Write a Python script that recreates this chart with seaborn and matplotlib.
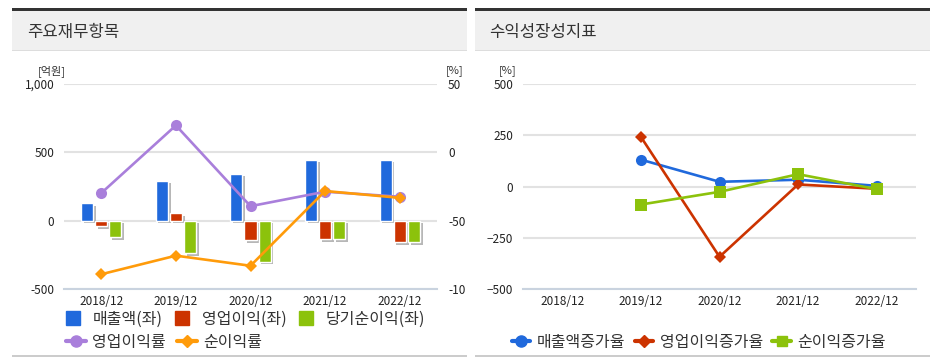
import numpy as np
import pandas as pd
import matplotlib.pyplot as plt
import matplotlib.patheffects as pe
from matplotlib.lines import Line2D
from matplotlib.patches import Rectangle
from matplotlib.transforms import Bbox, TransformedBbox
import seaborn as sns

# data
years = ["2018/12", "2019/12", "2020/12", "2021/12", "2022/12"]
sales = [126, 293, 345, 446, 446]           # 매출액 (억원)
op_profit = [-42, 54, -145, -133, -158]     # 영업이익 (억원)
net_profit = [-121, -236, -300, -133, -158] # 당기순이익 (억원)
op_margin = [-29.8, 19.7, -39.4, -28.8, -32.5]   # 영업이익률 (%)
net_margin = [-89.2, -75.6, -83.0, -28.3, -33.3] # 순이익률 (%)

sales_growth = [np.nan, 131, 23, 33, 3]     # 매출액증가율
op_growth = [np.nan, 242, -343, 10, -11]    # 영업이익증가율
net_growth = [np.nan, -88, -26, 60, -13]    # 순이익증가율

bar_items = ["매출액(좌)", "영업이익(좌)", "당기순이익(좌)"]
bar_colors = ["#2069dc", "#cc3300", "#8cc20c"]
c_purple, c_orange = "#a97fdb", "#ff9b0a"
g_colors = ["#2069dc", "#cc3300", "#8cc20c"]

sns.set_style("white")
plt.rcParams['font.family'] = ['Noto Sans CJK KR', 'DejaVu Sans']

W, H = 935, 363
fig = plt.figure(figsize=(W / 100, H / 100), dpi=100)

# background canvas in pixel coordinates
bg = fig.add_axes([0, 0, 1, 1])
bg.set_xlim(0, W)
bg.set_ylim(H, 0)
bg.axis('off')
for x0, x1 in [(12, 467), (475, 930)]:
    bg.add_patch(Rectangle((x0, 10), x1 - x0, 40, color="#f0f0f0", lw=0))
    bg.add_patch(Rectangle((x0, 8), x1 - x0, 2.5, color="#333333", lw=0))
    bg.add_patch(Rectangle((x0, 50), x1 - x0, 1, color="#dddddd", lw=0))
    bg.add_patch(Rectangle((x0, 355), x1 - x0, 2, color="#cccccc", lw=0))
bg.text(27, 32, "주요재무항목", fontsize=12, color="#333333", va="center")
bg.text(489, 32, "수익성장성지표", fontsize=12, color="#333333", va="center")
bg.text(52, 71, "[억원]", fontsize=8, color="#333333", ha="center", va="center")
bg.text(455, 71, "[%]", fontsize=8, color="#333333", ha="center", va="center")
bg.text(508, 71, "[%]", fontsize=8, color="#333333", ha="center", va="center")


def px_axes(x0, y0, x1, y1):
    return fig.add_axes([x0 / W, 1 - y1 / H, (x1 - x0) / W, (y1 - y0) / H])


def style_axis(ax):
    ax.set_xlim(-0.5, 4.5)
    ax.set_axisbelow(True)
    ax.yaxis.grid(True, color="#e2e2e2", lw=1.5)
    for s in ["top", "left", "right"]:
        ax.spines[s].set_visible(False)
    ax.spines["bottom"].set_color("#c9d3df")
    ax.spines["bottom"].set_linewidth(1.5)
    ax.set_xticks(range(5), years)
    ax.set_xticks(np.arange(-0.5, 5, 1), minor=True)
    ax.tick_params(axis="x", which="major", length=0, pad=4, labelsize=8.5, labelcolor="#222222")
    ax.tick_params(axis="x", which="minor", length=5, width=1.2, color="#c9d3df")
    ax.tick_params(axis="y", length=0, labelsize=8.5, labelcolor="#222222")
    ax.set_xlabel("")
    ax.set_ylabel("")


# ---- left: 주요재무항목 ----
ax1 = px_axes(64, 84, 437, 289)
bars = pd.DataFrame({
    "year": years * 3,
    "item": [bar_items[0]] * 5 + [bar_items[1]] * 5 + [bar_items[2]] * 5,
    "value": sales + op_profit + net_profit,
})
sns.barplot(data=bars, x="year", y="value", hue="item", palette=bar_colors,
            width=0.57, gap=0.15, saturation=1, legend=False, ax=ax1)
for p in ax1.patches:
    p.set_path_effects([pe.SimplePatchShadow(offset=(2, -2), shadow_rgbFace="#888888", alpha=0.6),
                        pe.Normal()])
style_axis(ax1)
ax1.set_ylim(-500, 1000)
ax1.set_yticks([-500, 0, 500, 1000], ["-500", "0", "500", "1,000"])
ax1.tick_params(axis="y", pad=7)

ax2 = ax1.twinx()
sns.lineplot(x=range(5), y=op_margin, color=c_purple, lw=1.9, marker="o",
             markersize=8, markeredgewidth=0, ax=ax2)
sns.lineplot(x=range(5), y=net_margin, color=c_orange, lw=1.9, marker="D",
             markersize=6.5, markeredgewidth=0, ax=ax2)
ax2.set_ylim(-100, 50)
ax2.set_yticks([-100, -50, 0, 50], ["-100", "-50", "0", "50"])
for s in ["top", "left", "right", "bottom"]:
    ax2.spines[s].set_visible(False)
ax2.tick_params(axis="y", length=0, pad=8, labelsize=8.5, labelcolor="#222222")
ax2.set_ylabel("")
ax2.set_xlim(-0.5, 4.5)
# the right-hand labels are cut off at the panel edge, as in the source
panel_clip = TransformedBbox(Bbox([[0, 0], [466, H]]), bg.transData)
for lbl in ax2.get_yticklabels():
    lbl.set_clip_box(panel_clip)
    lbl.set_clip_on(True)

# ---- right: 수익성장성지표 ----
ax3 = px_axes(523, 84, 916, 289)
sns.lineplot(x=range(5), y=sales_growth, color=g_colors[0], lw=1.9, marker="o",
             markersize=8, markeredgewidth=0, ax=ax3)
sns.lineplot(x=range(5), y=op_growth, color=g_colors[1], lw=1.9, marker="D",
             markersize=6, markeredgewidth=0, ax=ax3)
sns.lineplot(x=range(5), y=net_growth, color=g_colors[2], lw=1.9, marker="s",
             markersize=8, markeredgewidth=0, ax=ax3)
style_axis(ax3)
ax3.set_ylim(-500, 500)
ax3.set_yticks([-500, -250, 0, 250, 500])
ax3.tick_params(axis="y", pad=7)

# ---- legends ----
sq = [Line2D([], [], ls="none", marker="s", markersize=10, color=c) for c in bar_colors]
leg1 = bg.legend(sq, bar_items, loc="center left", bbox_to_anchor=(65, 319),
                 bbox_transform=bg.transData, ncol=3, frameon=False, fontsize=11.5,
                 handlelength=1.0, handletextpad=0.75, columnspacing=0.7,
                 borderpad=0, borderaxespad=0, labelcolor="#333333")
bg.add_artist(leg1)
ln = [Line2D([], [], color=c_purple, lw=3, marker="o", markersize=8),
      Line2D([], [], color=c_orange, lw=3, marker="D", markersize=6)]
leg2 = bg.legend(ln, ["영업이익률", "순이익률"], loc="center left", bbox_to_anchor=(66, 342),
                 bbox_transform=bg.transData, ncol=2, frameon=False, fontsize=11.5,
                 handlelength=1.25, handletextpad=0.4, columnspacing=0.7,
                 borderpad=0, borderaxespad=0, labelcolor="#333333")
bg.add_artist(leg2)
gl = [Line2D([], [], color=g_colors[0], lw=3, marker="o", markersize=8),
      Line2D([], [], color=g_colors[1], lw=3, marker="D", markersize=6),
      Line2D([], [], color=g_colors[2], lw=3, marker="s", markersize=7)]
bg.legend(gl, ["매출액증가율", "영업이익증가율", "순이익증가율"], loc="center left",
          bbox_to_anchor=(512, 342), bbox_transform=bg.transData, ncol=3, frameon=False,
          fontsize=11.5, handlelength=1.15, handletextpad=0.4, columnspacing=0.6,
          borderpad=0, borderaxespad=0, labelcolor="#333333")

fig.savefig("out.png", dpi=100)
